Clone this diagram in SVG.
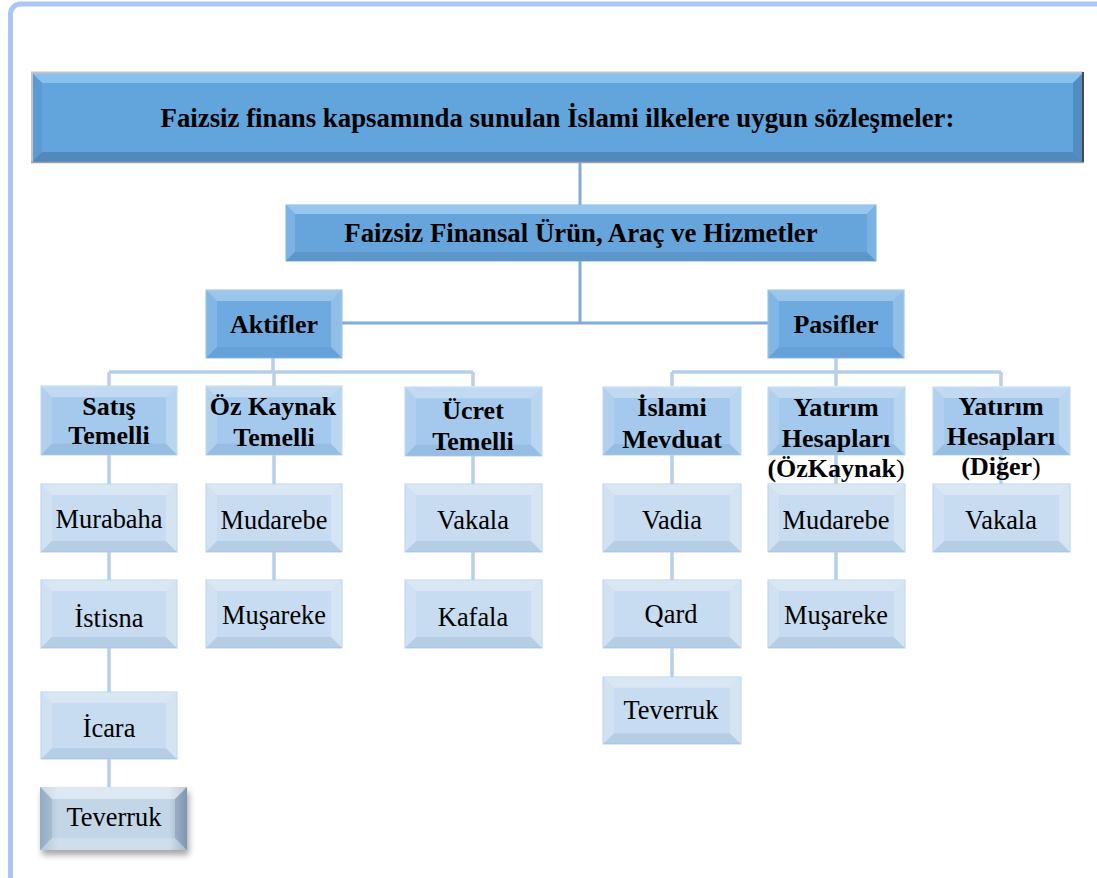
<svg xmlns="http://www.w3.org/2000/svg" width="1097" height="878" viewBox="0 0 1097 878">
<style>
.hb{font-family:"Liberation Serif","Times New Roman",serif;font-weight:bold;font-size:26px;text-anchor:middle;fill:#000}
.big{font-size:26.8px}
.lf{font-family:"Liberation Serif","Times New Roman",serif;font-weight:normal;font-size:26.4px;text-anchor:middle;fill:#000}
.cu{stroke:#80aadc;stroke-width:3;fill:none}
.cl{stroke:#b8cfea;stroke-width:3.5;fill:none}
.lv1{fill:#6eaae0;stroke:#8ebce8;stroke-width:1}
.lv3{fill:#a4c9ec;stroke:#b7d5f0;stroke-width:1}
.lf4{fill:#c7dcf0;stroke:#b5d0ea;stroke-width:1}
</style>
<defs>
<symbol id="bv" viewBox="0 0 136 68" preserveAspectRatio="none">
<polygon points="0,0 136,0 125,11 11,11" fill="#ffffff" fill-opacity="0.32"/>
<polygon points="0,0 11,11 11,57 0,68" fill="#ffffff" fill-opacity="0.14"/>
<polygon points="0,68 11,57 125,57 136,68" fill="#2a5f99" fill-opacity="0.11"/>
<polygon points="136,0 136,68 125,57 125,11" fill="#ffffff" fill-opacity="0.24"/>
</symbol>
<linearGradient id="tvg" x1="0" y1="0" x2="1" y2="0">
<stop offset="0" stop-color="#9fb5ca"/>
<stop offset="0.12" stop-color="#c2d6e8"/>
<stop offset="0.88" stop-color="#c2d6e8"/>
<stop offset="1" stop-color="#8ea5bc"/>
</linearGradient>
<filter id="sh" x="-20%" y="-20%" width="150%" height="160%">
<feDropShadow dx="2" dy="5" stdDeviation="3" flood-color="#000" flood-opacity="0.35"/>
</filter>
</defs>
<rect width="1097" height="878" fill="#ffffff"/>
<rect x="10.5" y="4" width="1200" height="1000" rx="10" fill="none" stroke="#abc6f5" stroke-width="5"/>

<g id="connectors">
<path class="cu" d="M580,162 V205"/>
<path class="cu" d="M580,261 V323 M342,323 H768"/>
<path class="cl" d="M273,358 V372 M109,372 H473 M109,372 V386 M274,372 V386 M473,372 V386"/>
<path class="cl" d="M836,358 V372 M672,372 H1001 M672,372 V386 M836,372 V386 M1001,372 V386"/>
<path class="cl" d="M109,455 V484 M109,552 V580 M109,648 V692 M109,759 V787"/>
<path class="cl" d="M274,455 V484 M274,552 V580"/>
<path class="cl" d="M473,455 V484 M473,552 V580"/>
<path class="cl" d="M672,455 V484 M672,552 V580 M672,648 V677"/>
<path class="cl" d="M836,455 V484 M836,552 V580"/>
<path class="cl" d="M1001,455 V484"/>
</g>

<g id="title">
<rect x="32" y="73" width="1051" height="89" fill="#62a4dc"/>
<polygon points="32,73 1083,73 1073,83 42,83" fill="#88c0ee"/>
<polygon points="32,73 42,83 42,152 32,162" fill="#5c9ad2"/>
<polygon points="32,162 42,152 1073,152 1083,162" fill="#5189bd"/>
<polygon points="1083,73 1083,162 1073,152 1073,83" fill="#538cc0"/>
<path d="M32,162 V72.5 H1083" fill="none" stroke="#c4c4c4" stroke-width="2"/>
<path d="M1083,72 V162.5" fill="none" stroke="#4a4a4a" stroke-width="2"/>
<path d="M31,162.5 H1083" fill="none" stroke="#a0a0a0" stroke-width="1.5"/>
<text class="hb big" x="557.5" y="127">Faizsiz finans kapsamında sunulan İslami ilkelere uygun sözleşmeler:</text>
</g>

<g id="level2">
<rect x="286" y="205" width="590" height="56" fill="#66a5dc" stroke="#7fb2e3" stroke-width="1"/>
<polygon points="286,205 876,205 867,214 295,214" fill="#97c6ef"/>
<polygon points="286,205 295,214 295,252 286,261" fill="#7cb3e5"/>
<polygon points="286,261 295,252 867,252 876,261" fill="#5c96cb"/>
<polygon points="876,205 876,261 867,252 867,214" fill="#7ab2e4"/>
<text class="hb big" x="581" y="242">Faizsiz Finansal Ürün, Araç ve Hizmetler</text>
</g>

<g id="aktifler">
<rect class="lv1" x="206" y="290" width="136" height="68"/>
<use href="#bv" x="206" y="290" width="136" height="68"/>
<text class="hb" x="274" y="333">Aktifler</text>
</g>
<g id="pasifler">
<rect class="lv1" x="768" y="290" width="136" height="68"/>
<use href="#bv" x="768" y="290" width="136" height="68"/>
<text class="hb" x="836" y="333">Pasifler</text>
</g>

<g id="satis">
<rect class="lv3" x="41" y="386" width="136" height="69"/>
<use href="#bv" x="41" y="386" width="136" height="69"/>
<text class="hb" x="109" y="415">Satış</text>
<text class="hb" x="109" y="444">Temelli</text>
</g>
<g id="ozkaynak">
<rect class="lv3" x="206" y="386" width="136" height="69"/>
<use href="#bv" x="206" y="386" width="136" height="69"/>
<text class="hb" x="273" y="415">Öz Kaynak</text>
<text class="hb" x="274" y="446">Temelli</text>
</g>
<g id="ucret">
<rect class="lv3" x="405" y="387" width="137" height="69"/>
<use href="#bv" x="405" y="387" width="137" height="69"/>
<text class="hb" x="473" y="419">Ücret</text>
<text class="hb" x="473" y="450">Temelli</text>
</g>
<g id="islami">
<rect class="lv3" x="603" y="387" width="138" height="68"/>
<use href="#bv" x="603" y="387" width="138" height="68"/>
<text class="hb" x="672" y="416">İslami</text>
<text class="hb" x="672" y="448">Mevduat</text>
</g>
<g id="yatirim-oz">
<rect class="lv3" x="768" y="387" width="137" height="68"/>
<use href="#bv" x="768" y="387" width="137" height="68"/>
<text class="hb" x="836" y="416">Yatırım</text>
<text class="hb" x="836" y="447">Hesapları</text>
<text class="hb" x="836" y="477">(ÖzKaynak<tspan font-weight="normal">)</tspan></text>
</g>
<g id="yatirim-diger">
<rect class="lv3" x="933" y="387" width="137" height="68"/>
<use href="#bv" x="933" y="387" width="137" height="68"/>
<text class="hb" x="1001" y="415">Yatırım</text>
<text class="hb" x="1001" y="445">Hesapları</text>
<text class="hb" x="1001" y="475">(Diğer<tspan font-weight="normal">)</tspan></text>
</g>

<g id="murabaha">
<rect class="lf4" x="41" y="484" width="136" height="68"/>
<use href="#bv" x="41" y="484" width="136" height="68"/>
<text class="lf" x="109" y="528">Murabaha</text>
</g>
<g id="istisna">
<rect class="lf4" x="41" y="580" width="136" height="68"/>
<use href="#bv" x="41" y="580" width="136" height="68"/>
<text class="lf" x="109" y="627">İstisna</text>
</g>
<g id="icara">
<rect class="lf4" x="41" y="692" width="136" height="67"/>
<use href="#bv" x="41" y="692" width="136" height="67"/>
<text class="lf" x="109" y="737">İcara</text>
</g>
<g id="teverruk-1">
<rect x="40" y="787" width="147" height="63" fill="url(#tvg)" filter="url(#sh)"/>
<polygon points="40,787 187,787 175,799 52,799" fill="#ffffff" fill-opacity="0.45"/>
<polygon points="40,787 52,799 52,838 40,850" fill="#6f8aa5" fill-opacity="0.25"/>
<polygon points="40,850 52,838 175,838 187,850" fill="#ffffff" fill-opacity="0.2"/>
<polygon points="187,787 187,850 175,838 175,799" fill="#4e6a86" fill-opacity="0.25"/>
<text class="lf" x="114" y="826">Teverruk</text>
</g>

<g id="mudarebe-1">
<rect class="lf4" x="206" y="484" width="136" height="68"/>
<use href="#bv" x="206" y="484" width="136" height="68"/>
<text class="lf" x="274" y="529">Mudarebe</text>
</g>
<g id="musareke-1">
<rect class="lf4" x="206" y="580" width="136" height="68"/>
<use href="#bv" x="206" y="580" width="136" height="68"/>
<text class="lf" x="274" y="624">Muşareke</text>
</g>

<g id="vakala-1">
<rect class="lf4" x="405" y="484" width="137" height="68"/>
<use href="#bv" x="405" y="484" width="137" height="68"/>
<text class="lf" x="473" y="529">Vakala</text>
</g>
<g id="kafala">
<rect class="lf4" x="405" y="580" width="137" height="68"/>
<use href="#bv" x="405" y="580" width="137" height="68"/>
<text class="lf" x="473" y="626">Kafala</text>
</g>

<g id="vadia">
<rect class="lf4" x="603" y="484" width="138" height="68"/>
<use href="#bv" x="603" y="484" width="138" height="68"/>
<text class="lf" x="672" y="529">Vadia</text>
</g>
<g id="qard">
<rect class="lf4" x="603" y="580" width="138" height="68"/>
<use href="#bv" x="603" y="580" width="138" height="68"/>
<text class="lf" x="671" y="623">Qard</text>
</g>
<g id="teverruk-2">
<rect class="lf4" x="603" y="677" width="138" height="67"/>
<use href="#bv" x="603" y="677" width="138" height="67"/>
<text class="lf" x="671" y="719">Teverruk</text>
</g>

<g id="mudarebe-2">
<rect class="lf4" x="768" y="484" width="137" height="68"/>
<use href="#bv" x="768" y="484" width="137" height="68"/>
<text class="lf" x="836" y="529">Mudarebe</text>
</g>
<g id="musareke-2">
<rect class="lf4" x="768" y="580" width="137" height="68"/>
<use href="#bv" x="768" y="580" width="137" height="68"/>
<text class="lf" x="836" y="624">Muşareke</text>
</g>

<g id="vakala-2">
<rect class="lf4" x="933" y="484" width="137" height="68"/>
<use href="#bv" x="933" y="484" width="137" height="68"/>
<text class="lf" x="1001" y="529">Vakala</text>
</g>
</svg>
